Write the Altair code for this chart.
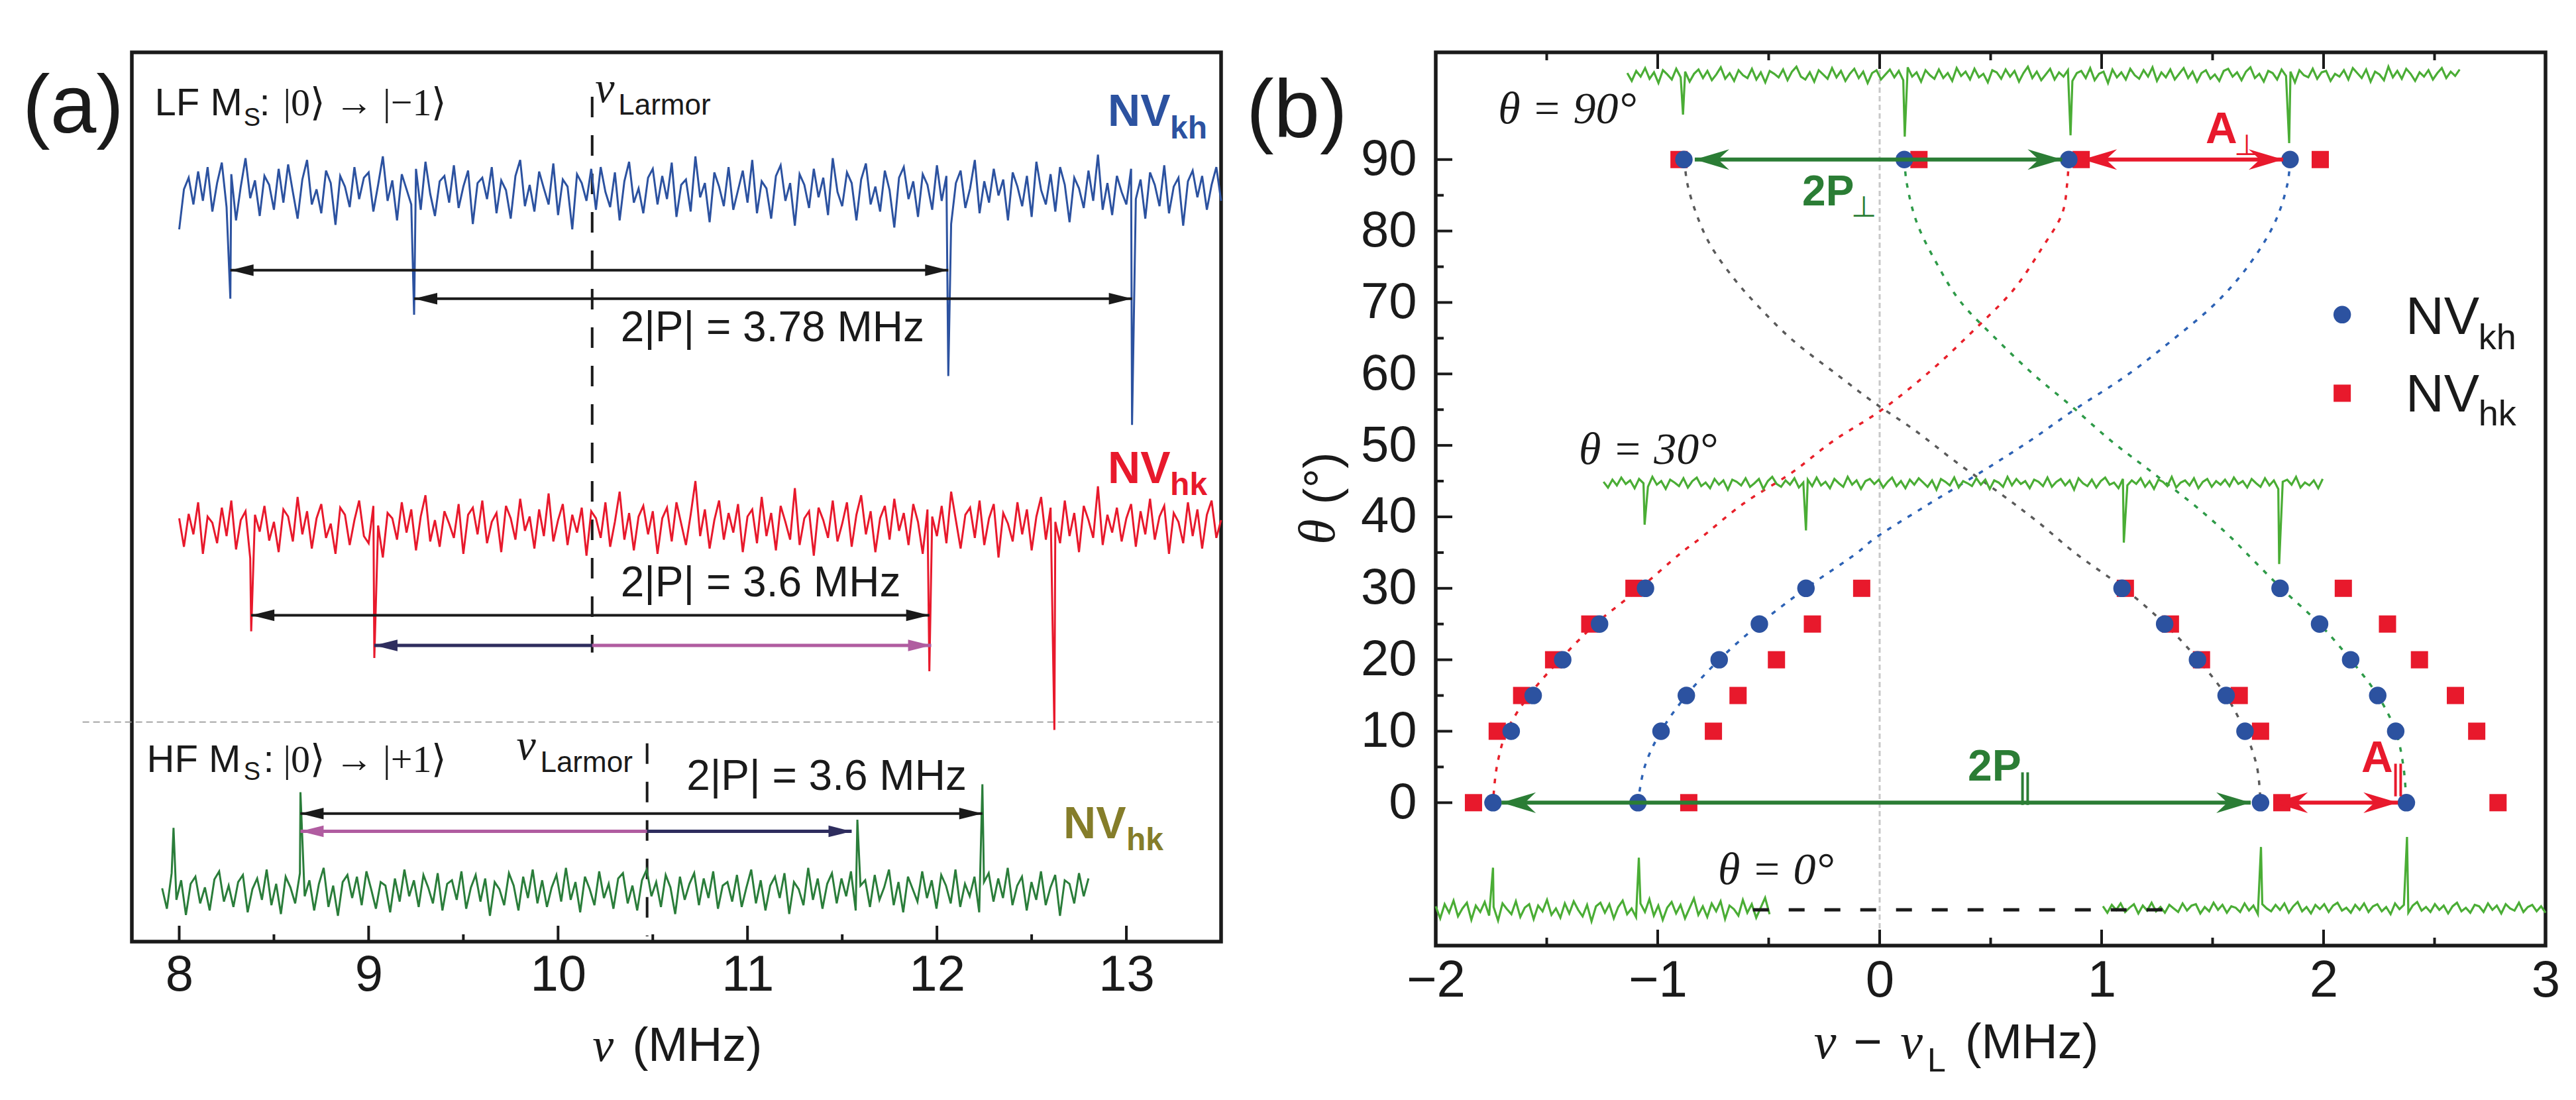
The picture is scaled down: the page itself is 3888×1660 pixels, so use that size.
import altair as alt
import numpy as np
import pandas as pd

SANS = "Liberation Sans"
SERIF = "Liberation Serif"
BLACK = "#1a1a1a"
BLUE = "#2c52a0"
RED = "#e8192c"
DKGREEN = "#2a7d3a"
OLIVE = "#857d2a"
NAVY = "#2e2d5e"
PINK = "#b05ca0"
LTGREEN = "#4aad35"
ARGREEN = "#2b7d35"

# ======================= DATA : panel (a) =======================
# LF, NV_kh (blue) trace: start, end, baseline, noise, dips
blue_range = [8.0, 13.5]
blue_base = 841
blue_noise = [
    -40, 5, 18, -12, 25, -8, 30, -20, 12, 35, -15, 22, -30, 8, 40, -5, 15, -25, 20, 10,
    -18, 28, -10, 33, 2, -28, 16, 38, -12, 5, -22, 26, 12, -35, 20, 8, -15, 30, -6, 18,
    24, -20, 10, 42, -8, 15, -30, 22, 5, -12, 28, -18, 36, 0, -25, 14, 20, -10, 32, -16,
    8, 26, -34, 12, 18, -6, 30, -22, 15, 4, -28, 20, 38, -14, 10, -20, 25, 6, -12, 34,
    -24, 16, 8, -40, 22, 12, -8, 28, -18, 30, 2, -15, 24, -30, 14, 36, -10, 6, -22, 18,
    28, -12, 20, -6, 35, -26, 10, 16, -20, 42, -4, 12, -32, 24, 8, -14, 30, -18, 4, 26,
    -10, 38, -22, 14, 6, -28, 20, 32, -8, 12, -36, 22, 10, -16, 28, -4, 18, -24, 40, 2,
    -14, 24, 12, -30, 16, 34, -12, 8, -20, 26, 4, -38, 18, 30, -6, 14, -26, 22, 10, -18,
    32, -8, 20, -34, 12, 26, -16, 6, 38, -22, 14, -10, 28, -2, 16, -30, 24, 8, -14, 20,
    -26, 36, 4, -12, 22, -20, 30, 10, -32, 18, 6, -16, 26, -8, 44, -18, 12, -24, 20, 2,
    -12, 28, -6, 16, -28, 24, 10, -14, 32, -22, 8, 18, -36, 14, 26, -4, 20, -18, 10, 30, -8]
blue_dip_nu = [8.27, 9.24, 12.06, 13.03]
blue_dip_y = [723, 705, 636, 581]

# LF, NV_hk (red) trace
red_range = [8.0, 13.5]
red_base = 466
red_noise = [
    10, -22, 15, -8, 28, -30, 12, 5, -18, 22, -10, 30, -25, 8, 18, -35, 14, -5, 24, -15,
    6, -28, 20, 12, -16, 34, -8, 18, -24, 10, 26, -12, 4, -30, 22, 14, -20, 8, 30, -10,
    -18, 24, 2, -34, 16, 10, -14, 28, -6, 20, -26, 12, 36, -16, 8, -22, 18, 4, -12, 26,
    -30, 14, 22, -8, 30, -18, 6, 16, -28, 24, 10, -14, 32, -4, 12, -24, 20, -10, 38, -16,
    8, 26, -20, 14, -6, 22, -32, 18, 10, -12, 28, -22, 6, 40, -14, 16, -26, 12, 24, -8,
    18, -30, 10, 22, -16, 28, 4, -20, 14, 52, -10, 20, -24, 8, 30, -14, 16, -6, 26, -28,
    12, 20, -18, 34, -10, 16, -26, 24, 6, -14, 44, -20, 10, 18, -32, 22, 8, -12, 30, -16,
    4, 28, -22, 14, 36, -8, 18, -28, 10, 24, -14, 32, -4, 16, -20, 26, 6, -30, 20, 12,
    -10, 24, -18, 40, 8, -24, 14, 22, -12, 30, -20, 10, 26, -34, 16, 4, -16, 28, -8, 20,
    -26, 12, 34, -14, 22, 6, -18, 30, -10, 16, -28, 24, 8, -12, 46, -20, 14, -6, 22, -16,
    10, 26, -22, 18, -8, 32, -14, 12, 24, -30, 16, 6, -18, 28, -10, 20, -24, 14, 30, -12, 8]
red_dip_nu = [8.38, 9.03, 11.96, 12.62]
red_dip_y = [349, 319, 304, 238]

# HF, NV_hk (dark green) trace
hf_range = [7.91, 12.80]
hf_base = 55
hf_noise = [
    5, -18, 22, -8, 14, -25, 10, 18, -12, 6, -20, 15, 24, -10, 8, -16, 12, 20, -22, 4,
    16, -8, 26, -14, 10, -24, 18, 6, -12, 22, -4, 14, -20, 10, 28, -16, 8, -26, 12, 20,
    -6, 18, -14, 24, 4, -18, 12, 8, -22, 16, -10, 26, -4, 14, -16, 20, 6, -12, 22, -20,
    10, 14, -8, 24, -18, 6, 20, -10, 16, -26, 12, 4, -14, 22, 8, -20, 18, -6, 26, -12,
    14, -16, 6, 20, -10, 28, -8, 12, -22, 18, 4, -14, 24, -6, 10, -18, 16, 22, -12, 8,
    -20, 14, 26, -4, 12, -16, 20, 6, -24, 18, -8, 10, 22, -14, 16, -6, 24, -18, 8, 12,
    -10, 20, -16, 6, 26, -12, 14, -20, 8, 18, -6, 22, -24, 12, 4, -14, 28, -8, 16, -18,
    10, 22, -12, 16, -4, 24, -20, 8, 14, -16, 20, -8, 6, 26, -14, 12, -22, 18, 4, -10,
    24, -6, 14, -18, 20, 8, -12, 26, -16, 10, -4, 18, -22, 12, 22, -10, 16, -6, 28, -14,
    8, 18, -20, 12, -8, 24, -14, 6, 20, -26, 14, 10, -12, 22, -4, 16]
hf_peak_nu = [7.97, 8.64, 11.58, 12.24]
hf_peak_y = [128, 168, 137, 177]

a_major_ticks = [8, 9, 10, 11, 12, 13]
a_minor_ticks = [8.5, 9.5, 10.5, 11.5, 12.5]

# ======================= DATA : panel (b) =======================
theta_levels = [0, 10, 15, 20, 25, 30, 90]
kh_nu = [  # NV_kh, four lines per angle
    [-1.742, -1.089, 1.716, 2.373],
    [-1.660, -0.985, 1.646, 2.325],
    [-1.561, -0.871, 1.561, 2.244],
    [-1.428, -0.723, 1.432, 2.122],
    [-1.262, -0.542, 1.284, 1.982],
    [-1.055, -0.332, 1.092, 1.804],
    [-0.882, 0.111, 0.852, 1.849]]
hk_nu = [  # NV_hk
    [-1.830, -0.860, 1.812, 2.786],
    [-1.723, -0.749, 1.716, 2.690],
    [-1.613, -0.638, 1.620, 2.594],
    [-1.469, -0.465, 1.450, 2.432],
    [-1.306, -0.303, 1.310, 2.288],
    [-1.107, -0.081, 1.107, 2.089],
    [-0.904, 0.177, 0.908, 1.985]]

# dotted calculated branches (theta, nu)
gray_theta = [90, 86.7, 82.5, 78.1, 73.2, 69.3, 64.8, 59.9, 56.0, 52.1, 47.7, 43.2, 39.3, 35.0, 30, 25, 20, 15, 10, 5, 0]
gray_nu = [-0.880, -0.867, -0.827, -0.764, -0.653, -0.542, -0.395, -0.192, -0.026, 0.159, 0.343, 0.546, 0.712, 0.878, 1.100, 1.285, 1.435, 1.560, 1.645, 1.700, 1.716]
redc_theta = [90, 86.7, 82.5, 77.6, 71.7, 65.9, 60.5, 55.0, 50.6, 46.2, 41.8, 36.9, 35.0, 30, 25, 20, 15, 10, 5, 0]
redc_nu = [0.852, 0.845, 0.823, 0.731, 0.601, 0.417, 0.232, 0.011, -0.210, -0.395, -0.616, -0.812, -0.893, -1.080, -1.280, -1.440, -1.580, -1.680, -1.725, -1.742]
bluec_theta = [90, 86.7, 81.3, 75.6, 70.2, 64.8, 59.9, 55.0, 50.6, 46.2, 41.3, 36.9, 35.0, 30, 25, 20, 15, 10, 5, 0]
bluec_nu = [1.849, 1.838, 1.782, 1.672, 1.524, 1.321, 1.118, 0.878, 0.675, 0.454, 0.196, -0.026, -0.100, -0.332, -0.542, -0.723, -0.871, -0.985, -1.059, -1.089]
greenc_theta = [90, 86.7, 81.3, 75.4, 70.2, 64.8, 59.9, 55.6, 50.6, 46.2, 40.8, 36.9, 35.0, 30, 25, 20, 15, 10, 5, 0]
greenc_nu = [0.111, 0.122, 0.166, 0.258, 0.362, 0.528, 0.694, 0.860, 1.044, 1.229, 1.450, 1.590, 1.650, 1.810, 1.982, 2.122, 2.244, 2.325, 2.360, 2.373]

# measured spectra (theta offset units)
t90_range = [-1.137, 2.613]
t90_base = 101.8
t90_noise = [
    0.3, -0.8, 0.6, -0.2, 1.0, -0.5, 0.4, -1.1, 0.7, 0.1, -0.6, 0.9, -0.3, 0.5, -0.9, 0.2, 0.8, -0.4, 0.6, -0.7,
    0.1, 1.1, -0.5, 0.3, -0.8, 0.7, 0.0, -0.4, 0.9, -0.6, 0.4, -1.0, 0.6, 0.2, -0.3, 0.8, -0.7, 0.5, 1.2, -0.2,
    -0.6, 0.4, -0.9, 0.7, 0.1, -0.5, 1.0, -0.3, 0.6, -0.8, 0.2, 0.9, -0.4, 0.5, -1.1, 0.3, 0.7, -0.6, 0.1, 0.8,
    -0.3, 0.6, -0.7, 1.1, -0.2, 0.4, -0.9, 0.7, 0.0, -0.5, 0.8, -0.4, 0.3, -0.8, 1.0, -0.1, 0.5, -0.6, 0.9, -0.3,
    0.2, -1.0, 0.7, 0.4, -0.5, 0.8, -0.2, 0.6, -0.9, 0.3, 1.2, -0.4, 0.5, -0.7, 0.1, 0.9, -0.6, 0.4, -0.2, 0.7,
    -0.8, 0.3, 0.6, -0.4, 1.0, -0.7, 0.2, 0.5, -1.1, 0.8, -0.3, 0.4, -0.6, 0.9, 0.0, -0.5, 0.7, -0.2, 1.1, -0.8,
    0.4, -0.3, 0.8, -0.6, 0.2, 1.0, -0.4, 0.5, -0.9, 0.3, 0.7, -0.5, 0.1, -0.8, 0.6, 0.9, -0.2, 0.4, -0.7, 0.5,
    1.1, -0.4, 0.2, -0.9, 0.6, 0.3, -0.6, 0.8, -0.1, 0.5, -1.0, 0.7, 0.0, -0.3, 0.9, -0.5, 0.4, 0.6, -0.8, 0.2,
    -0.2, 0.7, -0.6, 1.0, 0.3, -0.4, 0.8, -0.9, 0.5, 0.1, -0.7, 1.2, -0.3, 0.6, -0.5, 0.9, 0.2, -0.8,
    0.4, -0.2, 0.7, -0.6, 0.3, 1.0, -0.4, 0.5, -0.1, 0.8]
t90_dip_nu = [-0.886, 0.113, 0.860, 1.845]
t90_dip_y = [96.3, 93.2, 93.4, 92.3]

t30_range = [-1.244, 1.996]
t30_base = 44.7
t30_noise = [
    0.2, -0.6, 0.5, -0.3, 0.8, -0.1, 0.4, -0.7, 0.6, 0.0, -0.5, 0.9, -0.2, 0.3, -0.8, 0.5, 0.1, -0.4, 0.7, -0.6,
    0.3, 0.8, -0.4, 0.1, -0.7, 0.6, -0.2, 0.4, -0.9, 0.5, 0.2, -0.3, 0.7, -0.5, 0.0, 0.6, -0.8, 0.3, 0.9, -0.1,
    -0.5, 0.4, -0.2, 0.7, -0.6, 0.1, 0.5, -0.4, 0.8, -0.3, 0.2, -0.7, 0.6, 0.0, -0.5, 0.9, -0.2, 0.4, -0.8, 0.3,
    0.6, -0.1, 0.5, -0.6, 0.2, 0.8, -0.4, 0.3, -0.7, 0.5, -0.2, 0.7, 0.1, -0.5, 0.4, -0.9, 0.6, 0.2, -0.3, 0.8,
    -0.6, 0.3, 0.0, -0.4, 0.7, -0.2, 0.5, -0.8, 0.4, 0.1, -0.5, 0.9, -0.3, 0.6, -0.1, 0.3, -0.7, 0.5, 0.2, -0.4,
    0.8, -0.5, 0.2, 0.6, -0.3, 0.4, -0.9, 0.7, 0.0, -0.4, 0.5, -0.6, 0.3, 0.8, -0.2, 0.1, -0.7, 0.6, -0.3, 0.4,
    -0.1, 0.7, -0.5, 0.3, -0.8, 0.5, 0.2, -0.4, 0.9, -0.6, 0.1, 0.4, -0.3, 0.7, -0.7, 0.2, 0.6, -0.5, 0.3, -0.2,
    0.5, -0.4, 0.8, -0.1, 0.3, -0.6, 0.6, 0.0, -0.5, 0.7, -0.3, 0.4, -0.8, 0.2, 0.5, -0.2, 0.9, -0.6, 0.1, -0.3,
    0.4, -0.7, 0.6]
t30_dip_nu = [-1.059, -0.332, 1.100, 1.800]
t30_dip_y = [38.9, 38.1, 36.4, 33.4]

t0l_range = [-2.0, -0.496]
t0l_base = -15.0
t0l_noise = [
    0.5, -1.2, 0.8, -0.4, 1.3, -0.9, 0.2, 1.0, -1.4, 0.6, -0.3, 1.1, -0.8, 0.4, -1.5, 0.9, 0.1, -0.6, 1.2, -1.0,
    0.3, 0.8, -1.3, 0.6, -0.2, 1.4, -0.7, 0.2, -1.1, 0.9, -0.5, 1.2, 0.0, -0.9, 0.7, -1.6, 0.5, 1.0, -0.4, 0.8,
    -1.2, 0.4, 1.3, -0.6, 0.2, -1.0, 0.9, -0.3, 1.5, -0.8, 0.6, -1.4, 0.3, 1.1, -0.5, 0.7, -1.2, 0.2, 1.6, -0.7,
    0.5, -1.0, 0.9, -0.2, 1.2, -1.3, 0.6, 0.1, -0.8, 1.4, -0.4, 0.8, -1.1, 0.3, 1.7, -0.6]
t0l_peak_nu = [-1.742, -1.085]
t0l_peak_y = [-9.1, -7.7]

t0r_range = [1.006, 3.0]
t0r_base = -14.8
t0r_noise = [
    0.3, -0.6, 0.5, -0.2, 0.7, -0.5, 0.1, 0.6, -0.7, 0.4, -0.3, 0.8, -0.4, 0.2, -0.6, 0.5, 0.0, -0.5, 0.7, -0.3,
    0.4, 0.6, -0.7, 0.2, -0.4, 0.8, -0.2, 0.5, -0.6, 0.3, 0.1, -0.5, 0.7, -0.3, 0.4, -0.8, 0.6, 0.0, -0.4, 0.5,
    -0.2, 0.7, -0.6, 0.3, 0.9, -0.4, 0.2, -0.7, 0.5, -0.1, 0.6, -0.5, 0.4, 0.8, -0.3, 0.1, -0.6, 0.5, -0.2, 0.7,
    -0.5, 0.3, 0.6, -0.4, 0.2, -0.8, 0.7, -0.1, 0.5, -0.6, 0.4, 0.9, -0.3, 0.2, -0.5, 0.6, -0.2, 0.4, -0.7, 0.3,
    0.8, -0.4, 0.1, -0.6, 0.5, 0.3, -0.5, 0.7, -0.2, 0.4, -0.7, 0.6, 0.0, -0.3, 0.8, -0.5, 0.2, 0.5, -0.4, 0.3, -0.6]
t0r_peak_nu = [1.718, 2.376]
t0r_peak_y = [-6.2, -4.8]

b_x_major = [-1, 0, 1, 2]
b_x_minor = [-1.5, -0.5, 0.5, 1.5, 2.5]
b_y_major = [0, 10, 20, 30, 40, 50, 60, 70, 80, 90]
b_y_minor = [5, 15, 25, 35, 45, 55, 65, 75, 85]


# ======================= helpers =======================
def trace_df(rng, base, noise, ev_nu, ev_y):
    xs = list(np.linspace(rng[0], rng[1], len(noise)))
    ys = [base + v for v in noise]
    pts = sorted(zip(xs + list(ev_nu), ys + list(ev_y)))
    return pd.DataFrame({"x": [p[0] for p in pts], "y": [p[1] for p in pts], "o": list(range(len(pts)))})


XA = alt.Scale(domain=[7.75, 13.5], nice=False, zero=False)
YA = alt.Scale(domain=[0, 1000], nice=False, zero=False)
XB = alt.Scale(domain=[-2, 3], nice=False, zero=False)
YB = alt.Scale(domain=[-20, 105], nice=False, zero=False)

axis_xa = alt.Axis(values=a_major_ticks, title=None, grid=False, domain=False, ticks=False, tickSize=0,
                   labelFontSize=76, labelFont=SANS, labelColor=BLACK, labelPadding=13,
                   labelFlush=False, format="d")
axis_xb = alt.Axis(values=[-2, -1, 0, 1, 2, 3], title=None, grid=False, domain=False, ticks=False, tickSize=0,
                   labelFontSize=78, labelFont=SANS, labelColor=BLACK, labelPadding=14,
                   labelFlush=False, format="d")
axis_yb = alt.Axis(values=b_y_major, title=None, grid=False, domain=False, ticks=False, tickSize=0,
                   labelFontSize=76, labelFont=SANS, labelColor=BLACK, labelPadding=29,
                   labelFlush=False, format="d")


def xa(f="x"):
    return alt.X(f"{f}:Q", scale=XA, axis=axis_xa)


def ya(f="y"):
    return alt.Y(f"{f}:Q", scale=YA, axis=None)


def xb(f="x"):
    return alt.X(f"{f}:Q", scale=XB, axis=axis_xb)


def yb(f="y"):
    return alt.Y(f"{f}:Q", scale=YB, axis=axis_yb)


def text(X, Y, s, x, y, size, color=BLACK, font=SANS, weight="normal", style="normal",
         align="left", baseline="alphabetic", angle=0):
    df = pd.DataFrame({"x": [x], "y": [y], "t": [s]})
    return alt.Chart(df).mark_text(font=font, fontSize=size, fontWeight=weight, fontStyle=style,
                                   color=color, align=align, baseline=baseline, angle=angle).encode(
        x=X("x"), y=Y("y"), text="t:N")


def hrule(X, Y, x1, x2, y, color, width, dash=None):
    df = pd.DataFrame({"x": [x1], "x2": [x2], "y": [y]})
    kw = dict(color=color, strokeWidth=width)
    if dash:
        kw["strokeDash"] = dash
    return alt.Chart(df).mark_rule(**kw).encode(x=X("x"), x2="x2:Q", y=Y("y"))


def vrules(X, Y, xs, y1, y2, color, width, dash=None):
    df = pd.DataFrame({"x": list(xs), "y": [y1] * len(xs), "y2": [y2] * len(xs)})
    kw = dict(color=color, strokeWidth=width)
    if dash:
        kw["strokeDash"] = dash
    return alt.Chart(df).mark_rule(**kw).encode(x=X("x"), y=Y("y"), y2="y2:Q")


def hticks(X, Y, ys, x1, x2, color, width):
    df = pd.DataFrame({"x": [x1] * len(ys), "x2": [x2] * len(ys), "y": list(ys)})
    return alt.Chart(df).mark_rule(color=color, strokeWidth=width).encode(x=X("x"), x2="x2:Q", y=Y("y"))


def head(X, Y, x, y, color, path, size):
    df = pd.DataFrame({"x": [x], "y": [y]})
    return alt.Chart(df).mark_point(shape=path, size=size, filled=True, opacity=1, color=color,
                                    strokeWidth=0).encode(x=X("x"), y=Y("y"))


HR_A = "M0,0 L-1,-0.25 L-1,0.25 Z"
HL_A = "M0,0 L1,-0.25 L1,0.25 Z"
SZ_A = 4900
HR_B = "M0,0 L-1,-0.3 L-0.68,0 L-1,0.3 Z"
HL_B = "M0,0 L1,-0.3 L0.68,0 L1,0.3 Z"
SZ_B = 10816


def arrow_a(x1, x2, y, color, left=True, right=True, width=4):
    layers = [hrule(xa, ya, x1, x2, y, color, width)]
    if left:
        layers.append(head(xa, ya, x1, y, color, HL_A, SZ_A))
    if right:
        layers.append(head(xa, ya, x2, y, color, HR_A, SZ_A))
    return layers


def arrow_b(x1, x2, y, color):
    return [hrule(xb, yb, x1, x2, y, color, 6),
            head(xb, yb, x1, y, color, HL_B, SZ_B),
            head(xb, yb, x2, y, color, HR_B, SZ_B)]


# ======================= panel (a) =======================
LA = []
LA.append(hrule(xa, ya, 7.49, 13.49, 247, "#9a9a9a", 1.8, [10, 6]))
LA.append(vrules(xa, ya, [10.18], 950, 325, BLACK, 4, [31, 27]))
LA.append(vrules(xa, ya, [10.47], 223, 6, BLACK, 4, [31, 27]))

for df, col in [(trace_df(blue_range, blue_base, blue_noise, blue_dip_nu, blue_dip_y), BLUE),
                (trace_df(red_range, red_base, red_noise, red_dip_nu, red_dip_y), RED),
                (trace_df(hf_range, hf_base, hf_noise, hf_peak_nu, hf_peak_y), DKGREEN)]:
    LA.append(alt.Chart(df).mark_line(color=col, strokeWidth=3).encode(x=xa(), y=ya(), order="o:Q"))

LA += arrow_a(8.27, 12.06, 755, BLACK)
LA += arrow_a(9.24, 13.03, 723, BLACK)
LA += arrow_a(8.38, 11.96, 367, BLACK)
LA += arrow_a(9.03, 10.18, 333, NAVY, left=True, right=False, width=5)
LA += arrow_a(10.18, 11.97, 333, PINK, left=False, right=True, width=5)
LA += arrow_a(8.64, 12.24, 144, BLACK)
LA += arrow_a(8.64, 10.47, 124, PINK, left=True, right=False, width=5)
LA += arrow_a(10.47, 11.55, 124, NAVY, left=False, right=True, width=5)

# inward ticks
LA.append(vrules(xa, ya, a_major_ticks, 0, 17.9, BLACK, 4))
LA.append(vrules(xa, ya, a_minor_ticks, 0, 8.2, BLACK, 4))

# texts
LA.append(text(xa, ya, "(a)", 7.173, 910, 125))
for lab, yv, x0 in [("LF M", 929, 7.871), ("HF M", 191, 7.829)]:
    LA.append(text(xa, ya, lab, x0, yv, 58))
LA.append(text(xa, ya, "S", 8.34, 917, 38))
LA.append(text(xa, ya, "S", 8.34, 182, 38))
LA.append(text(xa, ya, ":", 8.423, 929, 58))
LA.append(text(xa, ya, ":", 8.444, 191, 58))
LA.append(text(xa, ya, "|0⟩ → |−1⟩", 8.549, 929, 58, font=SERIF))
LA.append(text(xa, ya, "|0⟩ → |+1⟩", 8.549, 191, 58, font=SERIF))
LA.append(text(xa, ya, "ν", 10.196, 944, 66, font=SERIF, style="italic"))
LA.append(text(xa, ya, "Larmor", 10.318, 930, 44))
LA.append(text(xa, ya, "ν", 9.78, 205, 66, font=SERIF, style="italic"))
LA.append(text(xa, ya, "Larmor", 9.906, 191, 44))
LA.append(text(xa, ya, "NV", 12.902, 917, 68, color=BLUE, weight="bold"))
LA.append(text(xa, ya, "kh", 13.231, 903, 48, color=BLUE, weight="bold"))
LA.append(text(xa, ya, "NV", 12.902, 516, 68, color=RED, weight="bold"))
LA.append(text(xa, ya, "hk", 13.231, 502, 48, color=RED, weight="bold"))
LA.append(text(xa, ya, "NV", 12.668, 116, 68, color=OLIVE, weight="bold"))
LA.append(text(xa, ya, "hk", 13.0, 103, 48, color=OLIVE, weight="bold"))
LA.append(text(xa, ya, "2|P| = 3.78 MHz", 10.33, 675, 64))
LA.append(text(xa, ya, "2|P| = 3.6 MHz", 10.33, 388, 64))
LA.append(text(xa, ya, "2|P| = 3.6 MHz", 10.678, 171, 64))
LA.append(text(xa, ya, "ν", 10.182, -134, 72, font=SERIF, style="italic"))
LA.append(text(xa, ya, "(MHz)", 10.392, -134, 72))

panel_a = alt.layer(*LA).properties(width=1644, height=1342)

# ======================= panel (b) =======================
LB = []
LB.append(vrules(xb, yb, [0], -20, 105, "#c8c8c8", 3, [8, 5]))

for th, nu, col in [(gray_theta, gray_nu, "#5a5a5a"), (redc_theta, redc_nu, "#e8202a"),
                    (bluec_theta, bluec_nu, "#2d62b5"), (greenc_theta, greenc_nu, "#2e9a48")]:
    df = pd.DataFrame({"x": nu, "y": th, "o": list(range(len(th)))})
    LB.append(alt.Chart(df).mark_line(color=col, strokeWidth=3.5, strokeDash=[7, 11],
                                      interpolate="catmull-rom").encode(x=xb(), y=yb(), order="o:Q"))

for rng, base, noise, en, ey in [(t90_range, t90_base, t90_noise, t90_dip_nu, t90_dip_y),
                                 (t30_range, t30_base, t30_noise, t30_dip_nu, t30_dip_y),
                                 (t0l_range, t0l_base, t0l_noise, t0l_peak_nu, t0l_peak_y),
                                 (t0r_range, t0r_base, t0r_noise, t0r_peak_nu, t0r_peak_y)]:
    LB.append(alt.Chart(trace_df(rng, base, noise, en, ey)).mark_line(color=LTGREEN, strokeWidth=3.2).encode(
        x=xb(), y=yb(), order="o:Q"))

LB.append(hrule(xb, yb, -0.571, 1.275, -15.0, BLACK, 5, [24, 30]))

hk_df = pd.DataFrame({"x": [v for row in hk_nu for v in row],
                      "y": [t for t, row in zip(theta_levels, hk_nu) for _ in row]})
kh_df = pd.DataFrame({"x": [v for row in kh_nu for v in row],
                      "y": [t for t, row in zip(theta_levels, kh_nu) for _ in row]})
LB.append(alt.Chart(hk_df).mark_point(shape="square", size=676, filled=True, opacity=1, color=RED,
                                      strokeWidth=0).encode(x=xb(), y=yb()))
LB.append(alt.Chart(kh_df).mark_point(shape="circle", size=700, filled=True, opacity=1, color=BLUE,
                                      strokeWidth=0).encode(x=xb(), y=yb()))

LB += arrow_b(-0.833, 0.822, 90, ARGREEN)
LB += arrow_b(0.914, 1.818, 90, RED)
LB += arrow_b(-1.704, 1.672, 0, ARGREEN)
LB += arrow_b(1.774, 2.335, 0, RED)

# inward ticks
LB.append(vrules(xb, yb, b_x_major, -20, -17.77, BLACK, 4))
LB.append(vrules(xb, yb, b_x_minor, -20, -18.89, BLACK, 4))
LB.append(vrules(xb, yb, b_x_major, 105, 102.68, BLACK, 4))
LB.append(vrules(xb, yb, b_x_minor, 105, 103.89, BLACK, 4))
LB.append(hticks(xb, yb, b_y_major, -2, -1.9254, BLACK, 4))
LB.append(hticks(xb, yb, b_y_minor, -2, -1.9642, BLACK, 4))

# legend
LB.append(alt.Chart(pd.DataFrame({"x": [2.084], "y": [68.3]})).mark_point(
    shape="circle", size=700, filled=True, opacity=1, color=BLUE, strokeWidth=0).encode(x=xb(), y=yb()))
LB.append(alt.Chart(pd.DataFrame({"x": [2.084], "y": [57.3]})).mark_point(
    shape="square", size=676, filled=True, opacity=1, color=RED, strokeWidth=0).encode(x=xb(), y=yb()))
LB.append(text(xb, yb, "NV", 2.370, 65.6, 80))
LB.append(text(xb, yb, "kh", 2.698, 63.5, 54))
LB.append(text(xb, yb, "NV", 2.370, 54.7, 80))
LB.append(text(xb, yb, "hk", 2.698, 52.8, 54))

# annotations
LB.append(text(xb, yb, "(b)", -2.854, 93.1, 125))
LB.append(text(xb, yb, "θ = 90°", -1.719, 95.1, 68, font=SERIF, style="italic"))
LB.append(text(xb, yb, "θ = 30°", -1.355, 47.4, 68, font=SERIF, style="italic"))
LB.append(text(xb, yb, "θ = 0°", -0.728, -11.4, 68, font=SERIF, style="italic"))
LB.append(text(xb, yb, "2P", -0.349, 83.6, 64, color=ARGREEN, weight="bold"))
LB.append(text(xb, yb, "⊥", -0.128, 82.0, 44, color=ARGREEN))
LB.append(text(xb, yb, "A", 1.469, 92.3, 66, color=RED, weight="bold"))
LB.append(text(xb, yb, "⊥", 1.597, 90.6, 44, color=RED))
LB.append(text(xb, yb, "2P", 0.397, 3.06, 66, color=ARGREEN, weight="bold"))
LB.append(text(xb, yb, "∥", 0.618, 0.65, 50, color=ARGREEN))
LB.append(text(xb, yb, "A", 2.17, 4.27, 66, color=RED, weight="bold"))
LB.append(text(xb, yb, "∥", 2.299, 1.86, 50, color=RED))

# axis titles
LB.append(text(xb, yb, "ν", -0.296, -35.8, 76, font=SERIF, style="italic"))
LB.append(text(xb, yb, "−", -0.119, -35.8, 74))
LB.append(text(xb, yb, "ν", 0.093, -35.8, 76, font=SERIF, style="italic"))
LB.append(text(xb, yb, "L", 0.215, -37.6, 50))
LB.append(text(xb, yb, "(MHz)", 0.385, -35.8, 74))
LB.append(text(xb, yb, "θ", -2.525, 37.9, 78, font=SERIF, style="italic", align="center",
               baseline="middle", angle=270))
LB.append(text(xb, yb, "(°)", -2.504, 45.4, 74, align="center", baseline="middle", angle=270))

panel_b = alt.layer(*LB).properties(width=1675, height=1348,
                                    title=alt.TitleParams(text=" ", fontSize=17, offset=0))

chart = alt.hconcat(panel_a, panel_b, spacing=26).properties(
    padding={"left": 23, "top": 48, "right": 5, "bottom": 5}
).configure(font=SANS).configure_view(stroke=BLACK, strokeWidth=5.5)

chart.save("out.html", embed_options={"renderer": "svg", "actions": False})
